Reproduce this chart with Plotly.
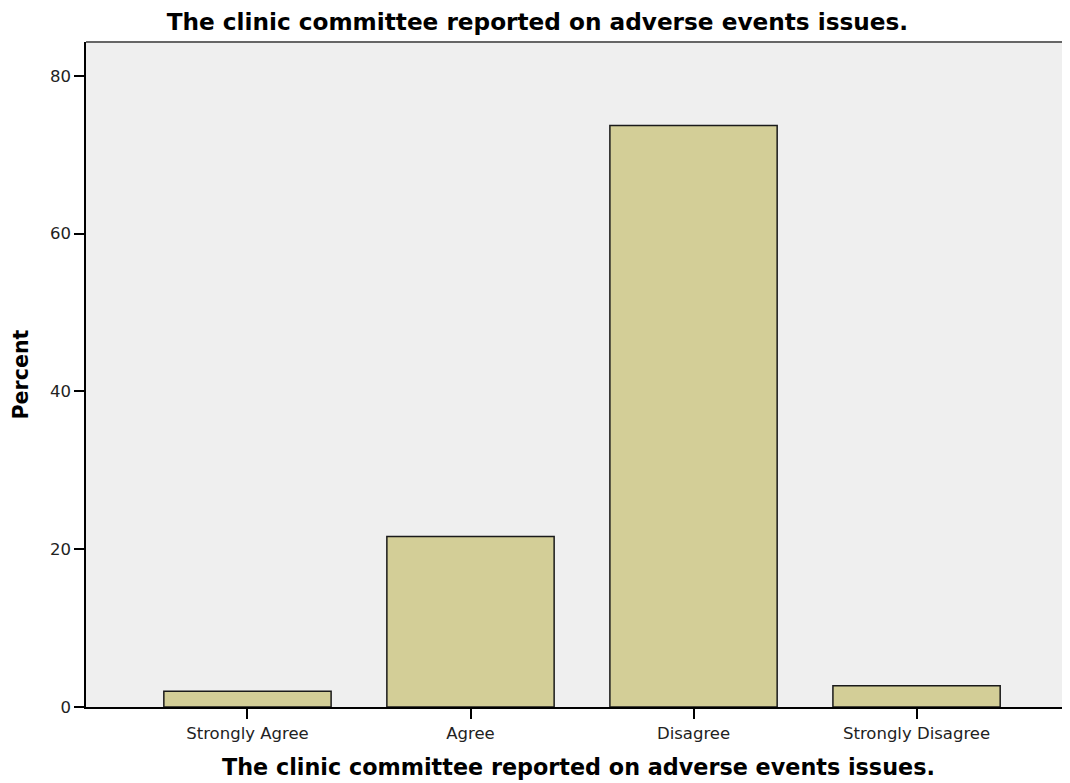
import plotly.graph_objects as go

categories = ["Strongly Agree", "Agree", "Disagree", "Strongly Disagree"]
percent = [2.0, 21.6, 73.7, 2.7]
y_ticks = [0, 20, 40, 60, 80]
title_text = "The clinic committee reported on adverse events issues."
y_title = "Percent"

FONT = "DejaVu Sans, Verdana, sans-serif"

fig = go.Figure()
fig.add_trace(go.Bar(
    x=categories, y=percent,
    marker=dict(color="#d3ce97", line=dict(color="#1a1a1a", width=1.5)),
    width=0.75,
))

fig.update_layout(
    width=1062, height=775,
    paper_bgcolor="white", plot_bgcolor="#efefef",
    margin=dict(l=78, r=0, t=34, b=76),
    showlegend=False,
    title=dict(text="<b>" + title_text + "</b>", x=0.4985, xanchor="center",
               y=1 - 14 / 775, yanchor="middle",
               font=dict(family=FONT, size=23.2, color="black")),
    xaxis=dict(
        range=[-0.724, 3.688], showgrid=False, zeroline=False,
        showline=True, linecolor="black", linewidth=1.5,
        ticks="outside", ticklen=10, tickcolor="black", tickwidth=1.5,
        tickfont=dict(family=FONT, size=16.5, color="#222"),
    ),
    yaxis=dict(
        range=[0, 84.3], tickvals=y_ticks, showgrid=False, zeroline=False,
        showline=True, linecolor="black", linewidth=1.5,
        ticks="outside", ticklen=10, tickcolor="black", tickwidth=1.5,
        tickfont=dict(family=FONT, size=16.5, color="#222"),
    ),
    annotations=[
        dict(text="<b>" + title_text + "</b>", xref="paper", yref="paper",
             x=0.5, y=0, yshift=-60, xanchor="center", yanchor="middle",
             showarrow=False, font=dict(family=FONT, size=22.3, color="black")),
        dict(text="<b>" + y_title + "</b>", xref="paper", yref="paper",
             x=0, xshift=-66, y=0.5, xanchor="center", yanchor="middle",
             textangle=-90, showarrow=False,
             font=dict(family=FONT, size=20.6, color="black")),
    ],
)
fig.add_shape(type="line", xref="paper", yref="paper", x0=0, x1=1, y0=1, y1=1,
              line=dict(color="#666666", width=2))

fig.write_html("out.html")
